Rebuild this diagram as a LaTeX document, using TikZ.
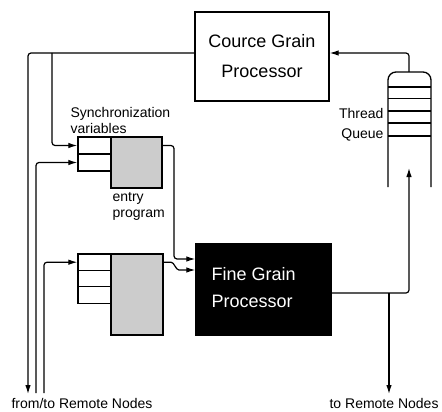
\documentclass[tikz,border=0pt]{standalone}
\usepackage{fontspec}
\setmainfont{Liberation Sans}
\usetikzlibrary{arrows.meta}
\begin{document}
\begin{tikzpicture}[x=1pt,y=-1pt, line width=1.2pt,
  conn/.style={-{Latex[length=9pt,width=5.5pt]}, rounded corners=3pt},
  box/.style={draw, line width=1.3pt, inner sep=0pt},
  shadebox/.style={box, fill=gray!40},
  lbl/.style={font=\fontsize{14}{16}\selectfont, inner sep=0pt}
]
\useasboundingbox (0,0) rectangle (442,412);

% processors
\node[box, minimum width=134pt, minimum height=89pt, align=center,
      font=\fontsize{18}{30}\selectfont] (coarse) at (262,56.5) {Cource Grain\\Processor};
\node[box, fill=black, minimum width=135pt, minimum height=91pt] (fine) at (263.5,289.5) {};
\node[text=white, align=left, anchor=west, inner sep=0pt,
      font=\fontsize{18}{27}\selectfont] (finetext) at (211,288) {Fine Grain\\Processor};

% synchronization variables (upper)
\node[shadebox, minimum width=51pt, minimum height=51pt] (shade1) at (136.5,162.5) {};
\node[box, minimum width=33pt, minimum height=17pt] (s1a) at (94.5,145.5) {};
\node[box, minimum width=33pt, minimum height=17pt] (s1b) at (94.5,162.5) {};

% synchronization variables (lower)
\node[shadebox, minimum width=52pt, minimum height=81pt] (shade2) at (137,294.5) {};
\node[box, minimum width=33pt, minimum height=16.4pt] (s2a) at (94.5,262.2) {};
\node[box, minimum width=33pt, minimum height=16.4pt] (s2b) at (94.5,278.6) {};
\node[box, minimum width=33pt, minimum height=16.4pt] (s2c) at (94.5,295.0) {};

% thread queue
\draw[line width=1.3pt, rounded corners=8pt] (388,187) -- (388,72) -- (431,72) -- (431,187);
\foreach \yy in {87,98.5,111,123,136} \draw[line width=1.3pt] (388,\yy) -- (431,\yy);
\coordinate (qtop) at (409,72);
\coordinate (qin) at (409,168);

% labels
\node[lbl, anchor=west, align=left] (syncl) at (70,120) {Synchronization\\variables};
\node[lbl, anchor=west, align=left] (entryl) at (112,206) {entry\\program};
\node[lbl, anchor=east, align=right, font=\fontsize{14}{20}\selectfont] (queuel) at (384,125) {Thread\\Queue};
\node[lbl, anchor=west] (remote1) at (11,403.5) {from/to Remote Nodes};
\node[lbl, anchor=west] (remote2) at (329,403.5) {to Remote Nodes};

% free ends
\coordinate (b1) at (28,394);
\coordinate (b2) at (36,393);
\coordinate (b3) at (44,393);
\coordinate (br) at (52,53);
\coordinate (b4) at (389,394);
\coordinate (sp) at (389,293);

% connectors
\draw[conn] ([yshift=3.5pt]coarse.west) -| (b1);
\draw[conn] (br) |- (s1a.west);
\draw[conn] (b2) |- (s1b.west);
\draw[conn] (b3) |- (s2a.west);
\draw[conn] (shade1.east |- s1a.east) -- (174,145.5) |- ([yshift=30.5pt]fine.west);
\draw[conn] (shade2.east |- s2a.east) -- (168,262.2) to[out=0,in=180] (182,270) -- ([yshift=19.5pt]fine.west);
\draw[conn] ([yshift=-3.5pt]fine.east) -| (qin);
\draw[conn] (sp) -- (b4);
\draw[conn] (qtop) |- ([yshift=3.5pt]coarse.east);
\end{tikzpicture}
\end{document}
